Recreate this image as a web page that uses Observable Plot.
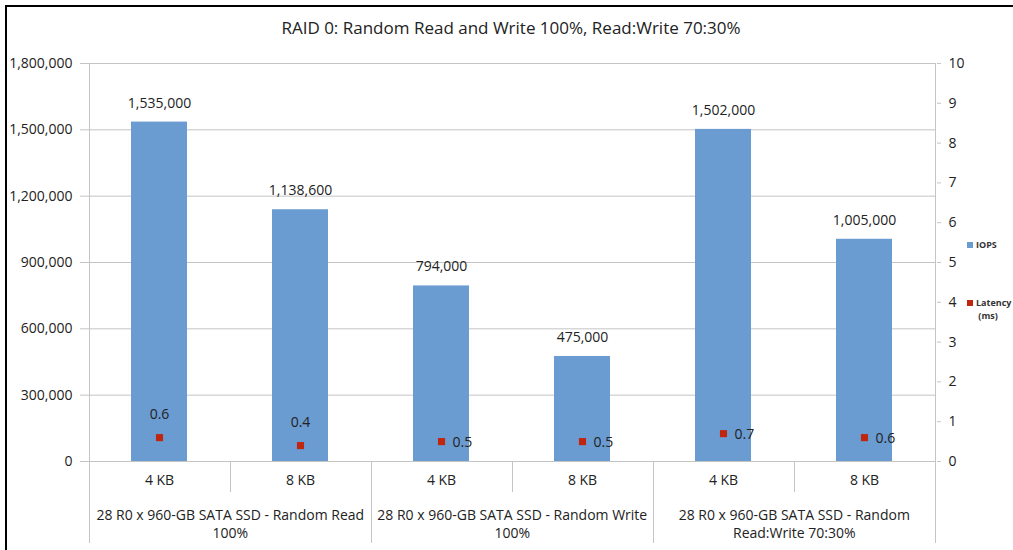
<!DOCTYPE html>
<html>
<head>
<meta charset="utf-8">
<script src="https://cdn.jsdelivr.net/npm/d3@7"></script>
<script src="https://cdn.jsdelivr.net/npm/@observablehq/plot@0.6"></script>
<style>
  html, body { margin: 0; padding: 0; background: #fff; }
  #wrap { position: relative; width: 1013px; height: 550px; overflow: hidden; font-family: "Open Sans", sans-serif; }
  #border { position: absolute; left: 5px; top: 5px; width: 1020px; height: 560px; border-top: 2px solid #000; border-left: 2px solid #000; pointer-events: none; }
  #title { position: absolute; left: 0; width: 1022px; top: 16px; text-align: center; font-size: 17px; color: #222; }
  #chart { position: absolute; left: 0; top: 0; }
  .lg { position: absolute; font-size: 9px; font-weight: bold; color: #333; line-height: 13px; }
  .sw { position: absolute; width: 6px; height: 6px; }
</style>
</head>
<body>
<div id="wrap">
  <div id="chart"></div>
  <div id="title">RAID 0: Random Read and Write 100%, Read:Write 70:30%</div>
  <div class="sw" style="left:967px; top:242px; background:#6a9bd1"></div>
  <div class="lg" style="left:976px; top:238px;">IOPS</div>
  <div class="sw" style="left:967px; top:300px; background:#c0260e"></div>
  <div class="lg" style="left:976px; top:296px;">Latency<br>&nbsp;(ms)</div>
  <div id="border"></div>
</div>
<script>
const groupLabels = [
  "28 R0 x 960-GB SATA SSD - Random Read\n100%",
  "28 R0 x 960-GB SATA SSD - Random Write\n100%",
  "28 R0 x 960-GB SATA SSD - Random\nRead:Write 70:30%"
];
const blockSizes = ["4 KB", "8 KB", "4 KB", "8 KB", "4 KB", "8 KB"];
const groupIndex = [0, 0, 1, 1, 2, 2];
const iops = [1535000, 1138600, 794000, 475000, 1502000, 1005000];
const latency = [0.6, 0.4, 0.5, 0.5, 0.7, 0.6];
const leftTicks = [0, 300000, 600000, 900000, 1200000, 1500000, 1800000];
const rightTicks = [0, 1, 2, 3, 4, 5, 6, 7, 8, 9, 10];

const W = 1013, H = 550;
const mL = 87, mR = 77, mT = 63, mB = 89;
const yMax = 1800000, rMax = 10, k = yMax / rMax;
const padIn = 0.6;

const data = iops.map((v, i) => ({
  key: "c" + i, size: blockSizes[i], group: groupIndex[i], iops: v, lat: latency[i], i
}));
const keys = data.map(d => d.key);
const firstOfGroup = data.filter((d, i) => i === 0 || groupIndex[i] !== groupIndex[i - 1]);
const step = (W - mL - mR) / keys.length;
const fmt = d3.format(",");
const lineColor = "#c4c4c4";
const textColor = "#222";

// separators and frame lines under the category axis
function separators(index, scales, values, dimensions) {
  const g = d3.create("svg:g").attr("stroke", lineColor).attr("stroke-width", 1);
  const x = scales.x;
  const st = x(keys[1]) - x(keys[0]);
  const y0 = scales.y(0);
  const yTop = scales.y(yMax);
  keys.forEach((kk, i) => {
    const bx = Math.round(x(kk) - padIn * st / 2) + 0.5;
    const isGroup = i === 0 || groupIndex[i] !== groupIndex[i - 1];
    g.append("line").attr("x1", bx).attr("x2", bx)
      .attr("y1", i === 0 ? yTop : y0).attr("y2", y0 + (isGroup ? 82 : 31));
  });
  const last = keys[keys.length - 1];
  const ex = Math.round(x(last) + st * (1 - padIn) + padIn * st / 2) + 0.5;
  g.append("line").attr("x1", ex).attr("x2", ex).attr("y1", yTop).attr("y2", y0 + 82);
  return g.node();
}

const chart = Plot.plot({
  width: W, height: H,
  marginLeft: mL, marginRight: mR, marginTop: mT, marginBottom: mB,
  style: { fontFamily: "'Open Sans', sans-serif", fontSize: "14px", color: textColor, background: "transparent" },
  x: { domain: keys, paddingInner: padIn, paddingOuter: padIn / 2, axis: null },
  y: { domain: [0, yMax], axis: null },
  marks: [
    Plot.ruleY(leftTicks, { y: d => d, stroke: lineColor, strokeWidth: 1, insetLeft: -7 }),
    Plot.axisY({ ticks: leftTicks, tickFormat: d => fmt(d), tickSize: 0, tickPadding: 15, fontSize: 14, color: textColor, label: null }),
    Plot.axisY({ anchor: "right", ticks: rightTicks.map(t => t * k), tickFormat: d => String(Math.round(d / k)), tickSize: 4, tickPadding: 8, stroke: lineColor, fontSize: 14, color: textColor, label: null }),
    separators,
    Plot.barY(data, { x: "key", y: "iops", fill: "#6a9bd1" }),
    Plot.text(data, { x: "key", y: "iops", text: d => fmt(d.iops), dy: -19, fontSize: 14, fill: textColor }),
    Plot.dot(data, { x: "key", y: d => d.lat * k, symbol: "square", r: 4, fill: "#c0260e", stroke: null }),
    Plot.text(data.filter(d => d.i < 2), { x: "key", y: d => d.lat * k, text: d => String(d.lat), dy: -23, fontSize: 14, fill: textColor }),
    Plot.text(data.filter(d => d.i >= 2), { x: "key", y: d => d.lat * k, text: d => String(d.lat), dx: 11, dy: 1, textAnchor: "start", fontSize: 14, fill: textColor }),
    Plot.text(data, { x: "key", y: () => 0, text: "size", dy: 19, fontSize: 14, fill: textColor }),
    Plot.text(firstOfGroup, { x: "key", y: () => 0, text: d => groupLabels[d.group], dx: step / 2, dy: 62, lineHeight: 1.3, fontSize: 14, fill: textColor })
  ]
});
document.getElementById("chart").appendChild(chart);
</script>
</body>
</html>
